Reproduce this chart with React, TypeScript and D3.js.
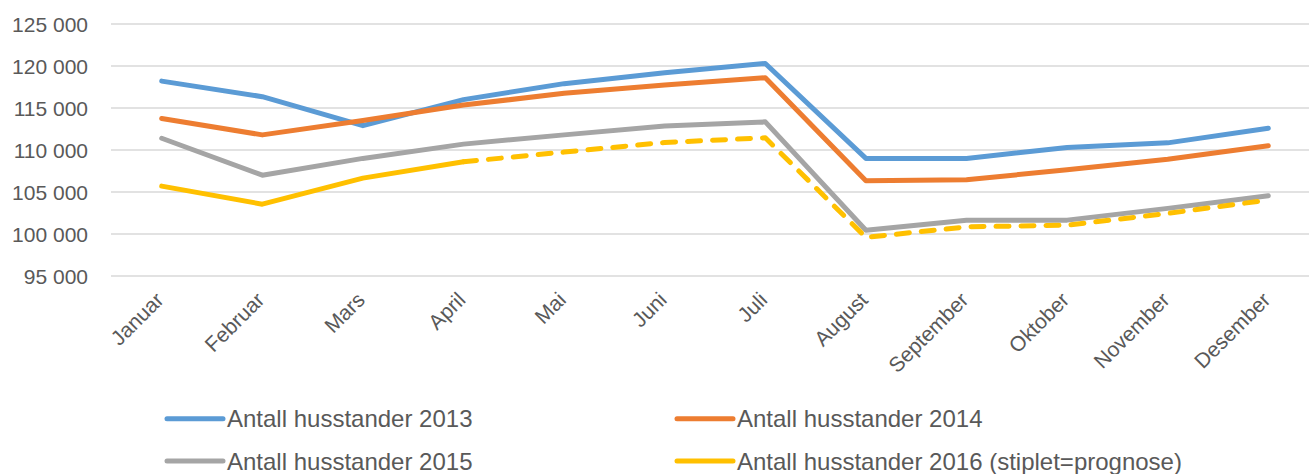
import * as d3 from 'd3';
import React from 'react';

// months on the x axis
const months = [
  'Januar', 'Februar', 'Mars', 'April', 'Mai', 'Juni',
  'Juli', 'August', 'September', 'Oktober', 'November', 'Desember',
];

// households per month
const h2013 = [118200, 116350, 112900, 116000, 117900, 119200, 120300, 109000, 109000, 110300, 110850, 112600];
const h2014 = [113750, 111800, 113500, 115350, 116750, 117750, 118600, 106350, 106450, 107650, 108900, 110500];
const h2015 = [111400, 107000, 109000, 110700, 111800, 112850, 113350, 100450, 101650, 101650, 103050, 104550];
const h2016 = [105700, 103550, 106650, 108600, 109750, 110900, 111450, 99600, 100850, 101050, 102450, 104050];

// index where the 2016 forecast (dashed) starts
const forecastFrom = 3;

const yTicks = [95000, 100000, 105000, 110000, 115000, 120000, 125000];

const series = [
  { name: 'Antall husstander 2013', values: h2013, color: '#5B9BD5' },
  { name: 'Antall husstander 2014', values: h2014, color: '#ED7D31' },
  { name: 'Antall husstander 2015', values: h2015, color: '#A5A5A5' },
  { name: 'Antall husstander 2016 (stiplet=prognose)', values: h2016, color: '#FFC000' },
];

const W = 1309;
const H = 474;
const font = '"Liberation Sans", Arial, sans-serif';
const textColor = '#595959';

export default function App() {
  // set the ranges
  const x = d3.scalePoint<string>().domain(months).range([111.4, 1318.6]).padding(0.5);
  const y = d3.scaleLinear().domain([95000, 125000]).range([276, 24]);

  const line = d3
    .line<[string, number]>()
    .x(d => x(d[0]) as number)
    .y(d => y(d[1]));

  const fmt = (v: number) => d3.format(',')(v).replace(/,/g, ' ');

  return (
    <svg
      width={W}
      height={H}
      style={{ position: 'absolute', left: 0, top: 0, display: 'block', background: '#fff' }}
      fontFamily={font}
    >
      <defs>
        <clipPath id="clip">
          <rect x={0} y={0} width={W} height={H} />
        </clipPath>
      </defs>

      {/* gridlines */}
      <g clipPath="url(#clip)">
        {yTicks.map(t => (
          <line key={t} x1={111} x2={1319} y1={y(t)} y2={y(t)} stroke="#D9D9D9" strokeWidth={1.5} />
        ))}
      </g>

      {/* y labels */}
      {yTicks.map(t => (
        <text
          key={t}
          x={88}
          y={y(t)}
          textAnchor="end"
          dominantBaseline="central"
          fontSize={21}
          fill={textColor}
        >
          {fmt(t)}
        </text>
      ))}

      {/* x labels */}
      {months.map(m => (
        <text
          key={m}
          transform={`translate(${(x(m) as number) - 2},${296}) rotate(-45)`}
          textAnchor="end"
          dominantBaseline="central"
          fontSize={21}
          fill={textColor}
        >
          {m}
        </text>
      ))}

      {/* lines */}
      {series.map((s, i) => {
        const pts = months.map((m, j) => [m, s.values[j]] as [string, number]);
        if (i === 3) {
          return (
            <g key={s.name}>
              <path
                d={line(pts.slice(0, forecastFrom + 1)) as string}
                fill="none"
                stroke={s.color}
                strokeWidth={5}
                strokeLinejoin="round"
                strokeLinecap="round"
              />
              <path
                d={line(pts.slice(forecastFrom)) as string}
                fill="none"
                stroke={s.color}
                strokeWidth={5}
                strokeLinejoin="round"
                strokeLinecap="round"
                strokeDasharray="13 12"
              />
            </g>
          );
        }
        return (
          <path
            key={s.name}
            d={line(pts) as string}
            fill="none"
            stroke={s.color}
            strokeWidth={5}
            strokeLinejoin="round"
            strokeLinecap="round"
          />
        );
      })}

      {/* legend */}
      {series.map((s, i) => {
        const lx = 167 + (i % 2) * 510;
        const ly = 418.7 + Math.floor(i / 2) * 42.3;
        return (
          <g key={s.name}>
            <line x1={lx} x2={lx + 56} y1={ly} y2={ly} stroke={s.color} strokeWidth={5} strokeLinecap="round" />
            <text x={lx + 60} y={ly} dominantBaseline="central" fontSize={24} fill={textColor}>
              {s.name}
            </text>
          </g>
        );
      })}
    </svg>
  );
}
